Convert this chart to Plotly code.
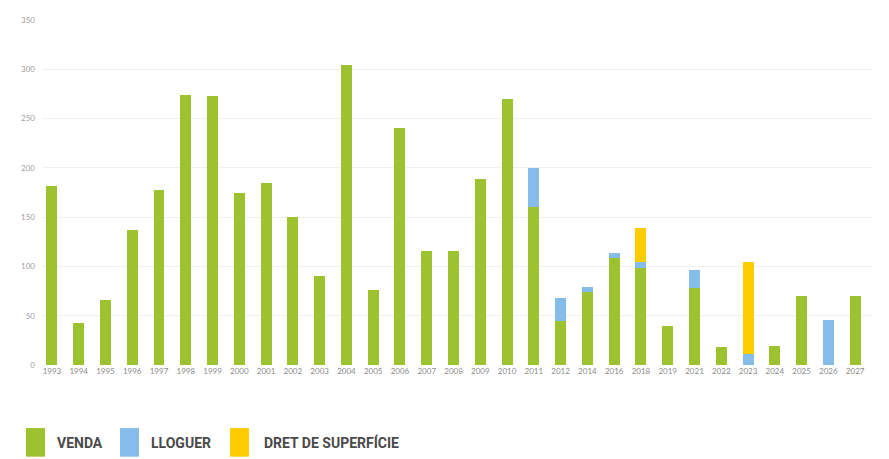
import plotly.graph_objects as go

years = ["1993","1994","1995","1996","1997","1998","1999","2000","2001","2002",
         "2003","2004","2005","2006","2007","2008","2009","2010","2011","2012",
         "2014","2016","2018","2019","2021","2022","2023","2024","2025","2026","2027"]
venda = [182, 43, 66, 137, 178, 274, 273, 175, 185, 150,
         90, 304, 76, 240, 116, 116, 189, 270, 160, 45,
         74, 109, 98, 40, 78, 18, 0, 19, 70, 0, 70]
lloguer = [0, 0, 0, 0, 0, 0, 0, 0, 0, 0,
           0, 0, 0, 0, 0, 0, 0, 0, 40, 23,
           5, 5, 7, 0, 18, 0, 11, 0, 0, 46, 0]
dret = [0]*22 + [34, 0, 0, 0, 93, 0, 0, 0, 0]

names = ["VENDA", "LLOGUER", "DRET DE SUPERFÍCIE"]
colors = ["#9DC22F", "#86BCE9", "#FFCC00"]
series = [venda, lloguer, dret]

fig = go.Figure()
for n, c, v in zip(names, colors, series):
    fig.add_trace(go.Bar(x=list(range(len(years))), y=v, name=n,
                         marker=dict(color=c, line=dict(width=0)),
                         width=0.41, showlegend=False))

# page has an 8px body margin, so the figure is drawn 8px smaller and offset
fig.update_layout(
    barmode="stack",
    width=881, height=451,
    margin=dict(l=34, r=17, t=7, b=94),
    paper_bgcolor="white", plot_bgcolor="white",
    font=dict(family="Lato, sans-serif", color="#9a9a9a", size=8),
    xaxis=dict(tickmode="array", tickvals=list(range(len(years))), ticktext=years,
               range=[-0.37, 30.63], showgrid=False, zeroline=False,
               showline=False, ticks="", tickfont=dict(size=8, color="#8a8a8a"),
               tickangle=0),
    yaxis=dict(range=[0, 350], dtick=50, showgrid=True, gridcolor="#f0f0f0",
               gridwidth=1, zeroline=False, showline=False, ticks="",
               tickfont=dict(size=8, color="#a0a0a0"), ticklabelstandoff=6),
)

# custom legend (positions in page pixels, converted to plot-paper fractions)
legend_x = [26, 120, 230]
text_x = [55, 149, 262]
for i, (n, c) in enumerate(zip(names, colors)):
    fig.add_shape(type="rect", xref="paper", yref="paper",
                  x0=(legend_x[i] - 42) / 830, x1=(legend_x[i] + 19 - 42) / 830,
                  y0=(365 - 458) / 350, y1=(365 - 429) / 350,
                  fillcolor=c, line=dict(width=0))
    fig.add_annotation(xref="paper", yref="paper",
                       x=(text_x[i] - 42) / 830, y=(365 - 444) / 350,
                       xanchor="left", yanchor="middle", showarrow=False,
                       text="<b>" + n + "</b>",
                       font=dict(family="Roboto, sans-serif",
                                 size=14, color="#4a4a4a"))

fig.write_html("out.html")
